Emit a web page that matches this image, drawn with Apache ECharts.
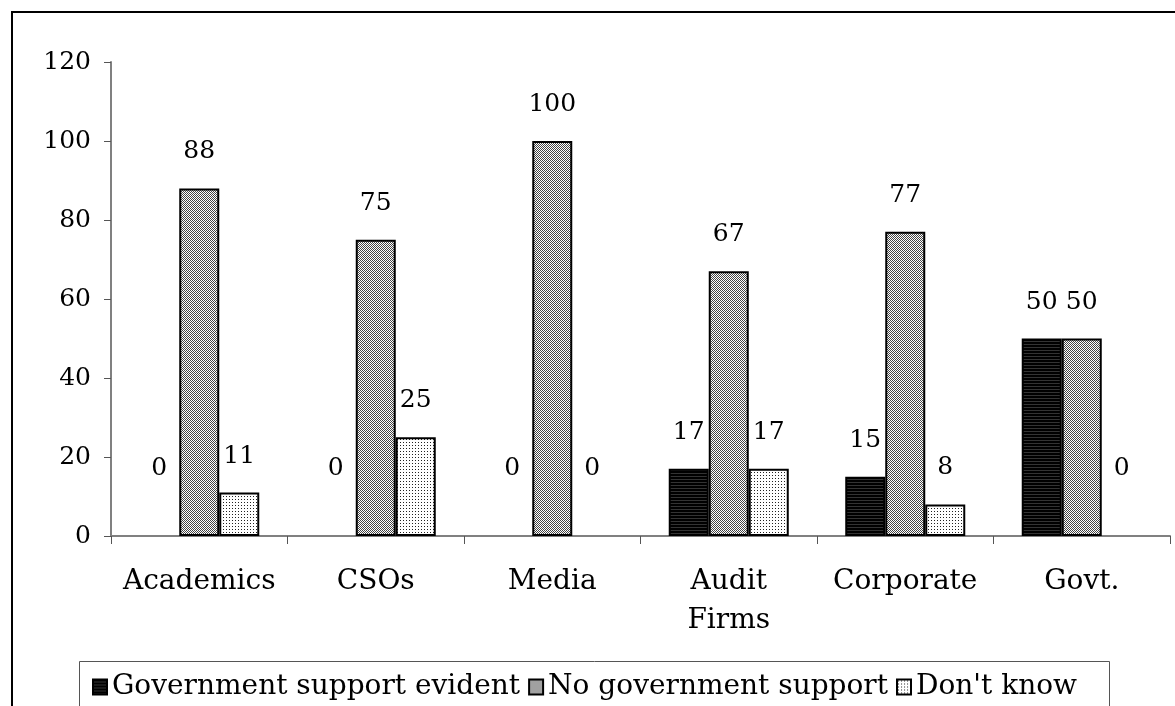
<!DOCTYPE html>
<html>
<head>
<meta charset="utf-8">
<script src="https://cdn.jsdelivr.net/npm/echarts@6/dist/echarts.min.js"></script>
<style>
  html, body { margin: 0; padding: 0; background: #fff; }
  #main { width: 1175px; height: 706px; }
</style>
</head>
<body>
<div id="main"></div>
<script>
// data
var categories = ['Academics', 'CSOs', 'Media', 'Audit\nFirms', 'Corporate', 'Govt.'];
var govSupport = [0, 0, 0, 17, 15, 50];
var noSupport = [88, 75, 100, 67, 77, 50];
var dontKnow = [11, 25, 0, 17, 8, 0];
var seriesNames = ['Government support evident', 'No government support', "Don't know"];

var FONT = 'DejaVu Serif';

// small canvas fills to imitate the old print patterns
function makePattern(w, h, draw) {
    var c = document.createElement('canvas');
    c.width = w;
    c.height = h;
    var ctx = c.getContext('2d');
    draw(ctx);
    return { image: c, repeat: 'repeat' };
}
var stripes = makePattern(1, 3, function (ctx) {
    ctx.fillStyle = '#000';
    ctx.fillRect(0, 0, 1, 3);
    ctx.fillStyle = '#333';
    ctx.fillRect(0, 2, 1, 1);
});
var checker = makePattern(2, 2, function (ctx) {
    ctx.fillStyle = '#fff';
    ctx.fillRect(0, 0, 2, 2);
    ctx.fillStyle = '#444';
    ctx.fillRect(0, 0, 1, 1);
    ctx.fillRect(1, 1, 1, 1);
});
var dots = makePattern(3, 3, function (ctx) {
    ctx.fillStyle = '#fff';
    ctx.fillRect(0, 0, 3, 3);
    ctx.fillStyle = '#222';
    ctx.fillRect(1, 1, 1, 1);
});

// zero values get their label drawn higher, like the original
function toItems(arr) {
    return arr.map(function (v) {
        if (v === 0) {
            return { value: v, label: { distance: 55 }, itemStyle: { borderWidth: 0 } };
        }
        return v;
    });
}

function makeSeries(name, arr, fill) {
    return {
        name: name,
        type: 'bar',
        barGap: 0,
        barCategoryGap: '32%',
        data: toItems(arr),
        itemStyle: {
            color: fill,
            borderColor: '#000',
            borderWidth: 2
        },
        label: {
            show: true,
            position: 'top',
            distance: 24,
            color: '#000',
            fontFamily: FONT,
            fontSize: 25
        }
    };
}

var myChart = echarts.init(document.getElementById('main'));
var option = {
    backgroundColor: '#fff',
    animation: false,
    graphic: [
        {
            type: 'rect',
            shape: { x: 12, y: 12, width: 1300, height: 800 },
            style: { fill: 'none', stroke: '#000', lineWidth: 2 },
            z: -1
        },
        {
            type: 'rect',
            shape: { x: 79.5, y: 661.5, width: 1030, height: 100 },
            style: { fill: 'none', stroke: '#555', lineWidth: 1 },
            z: -1
        }
    ],
    grid: {
        left: 111,
        right: 5,
        top: 62,
        bottom: 170
    },
    legend: {
        left: 87,
        top: 668,
        icon: 'rect',
        itemWidth: 14,
        itemHeight: 15,
        itemGap: 8,
        textStyle: {
            color: '#000',
            fontFamily: FONT,
            fontSize: 28
        },
        data: seriesNames
    },
    xAxis: {
        type: 'category',
        data: categories,
        axisLine: {
            lineStyle: { color: '#808080', width: 2 }
        },
        axisTick: {
            show: true,
            interval: 0,
            length: 8,
            lineStyle: { color: '#555' }
        },
        axisLabel: {
            interval: 0,
            color: '#000',
            fontFamily: FONT,
            fontSize: 28,
            margin: 26,
            lineHeight: 39
        }
    },
    yAxis: {
        type: 'value',
        min: 0,
        max: 120,
        interval: 20,
        axisLine: {
            show: true,
            lineStyle: { color: '#808080', width: 2 }
        },
        axisTick: {
            show: true,
            length: 7,
            lineStyle: { color: '#555' }
        },
        axisLabel: {
            color: '#000',
            fontFamily: FONT,
            fontSize: 25,
            margin: 20
        },
        splitLine: { show: false }
    },
    series: [
        makeSeries(seriesNames[0], govSupport, stripes),
        makeSeries(seriesNames[1], noSupport, checker),
        makeSeries(seriesNames[2], dontKnow, dots)
    ]
};
myChart.setOption(option);
</script>
</body>
</html>
